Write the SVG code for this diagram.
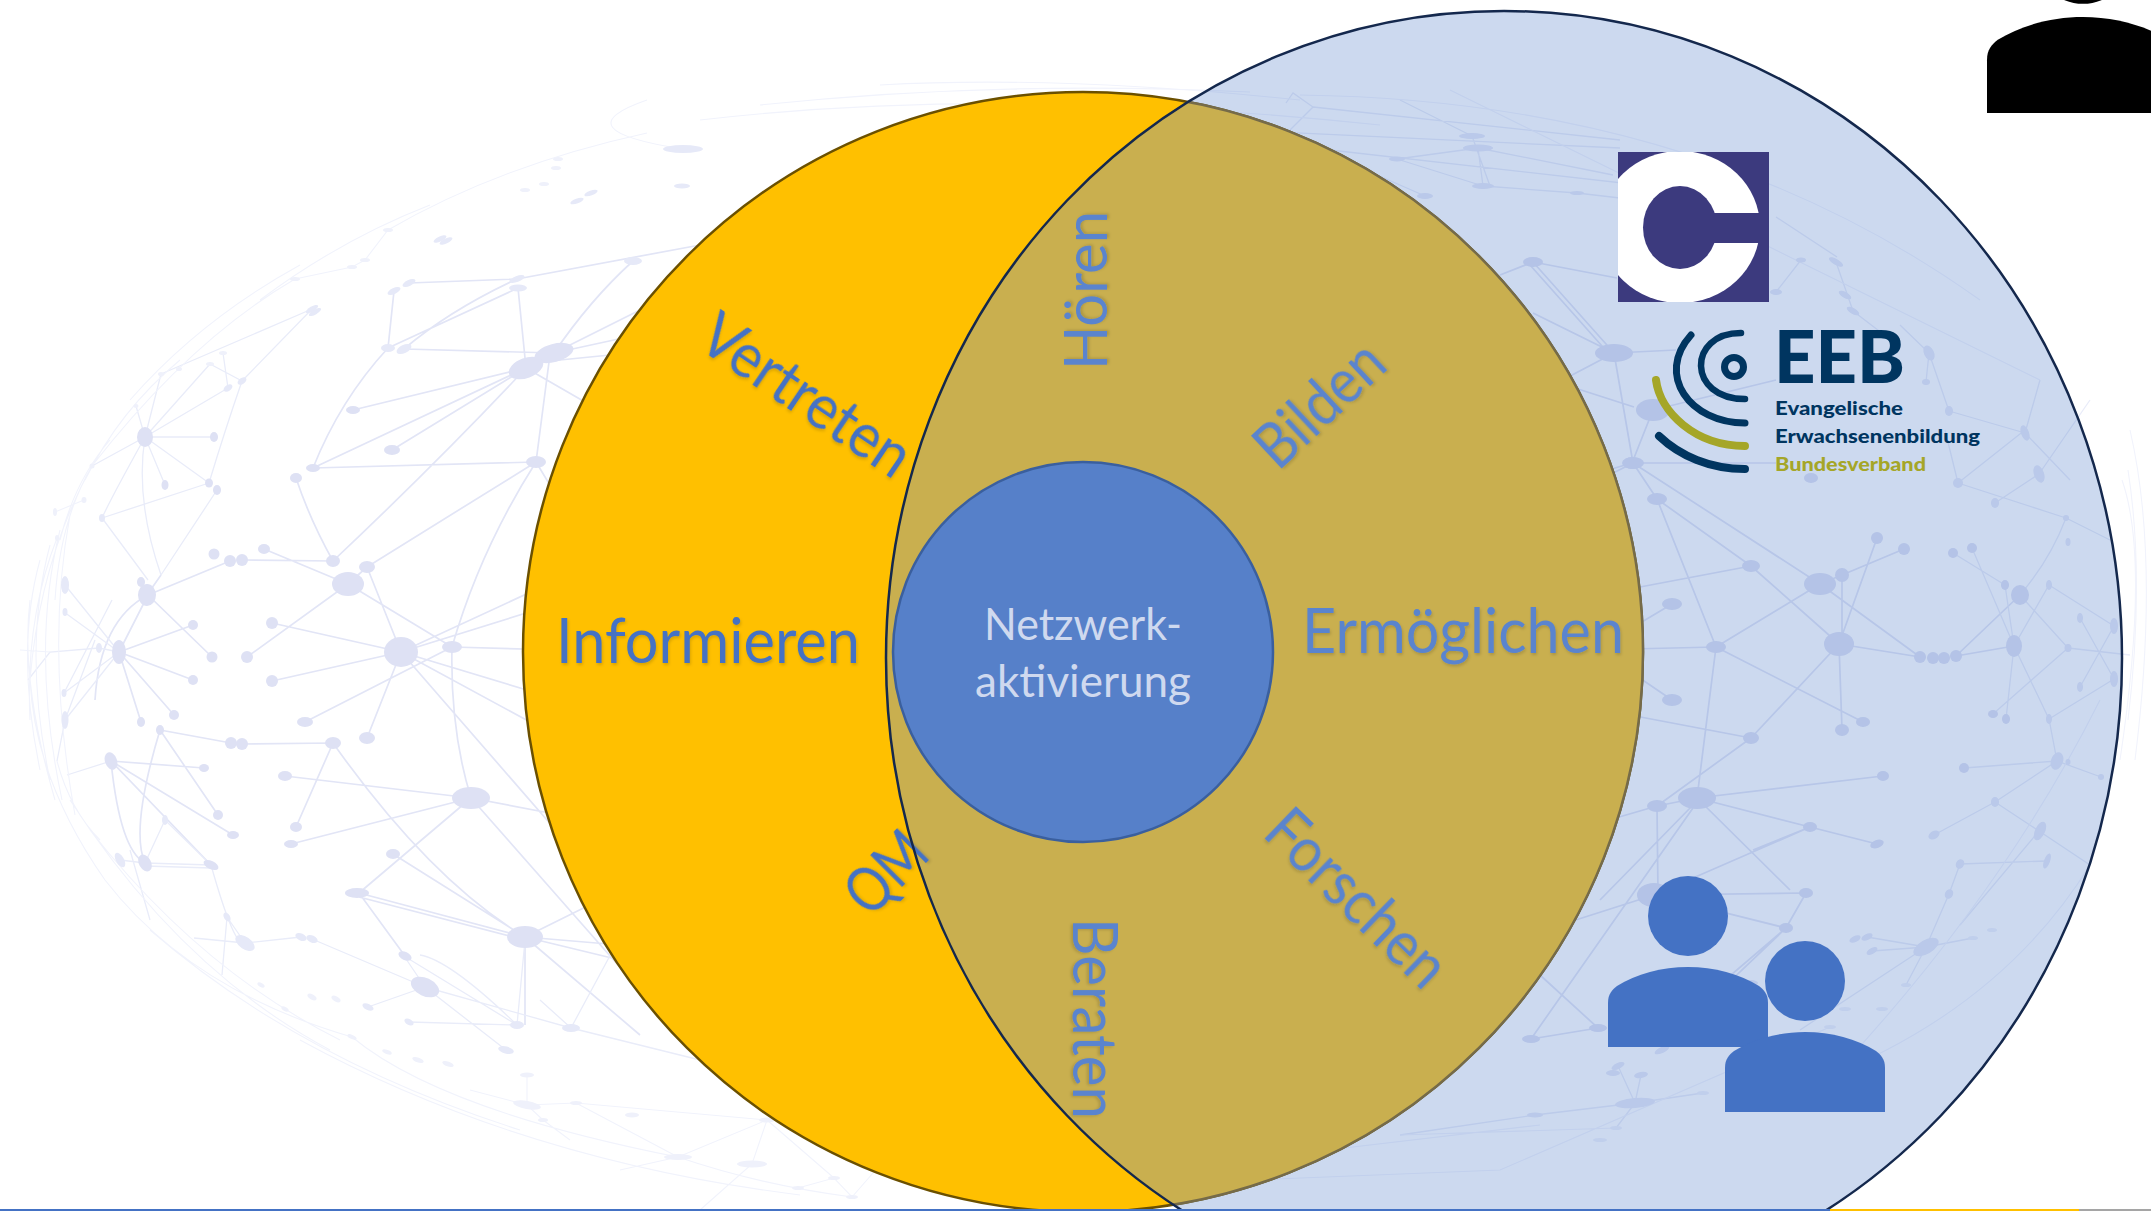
<svg xmlns="http://www.w3.org/2000/svg" width="2151" height="1211" viewBox="0 0 2151 1211">
<style>
.edge{fill:none;stroke:#e2e5f6;stroke-width:1.7}
.edge2{fill:none;stroke:#e9ecf9;stroke-width:1.3}
.edge3{fill:none;stroke:#f1f3fc;stroke-width:1.1}
.nd{fill:#dee1f4}
.nd2{fill:#e6e9f8}
.nd3{fill:#eff1fb}
.lab{font-family:"Lato","Carlito","Liberation Sans",sans-serif;font-size:62px;fill:#4472c4;filter:url(#sh)}
.lab2{fill:#5a84ce}
.rot{font-size:60px}
.in{font-family:"Lato","Carlito","Liberation Sans",sans-serif;font-size:44px;fill:#cfd9ef;text-anchor:middle}
.eeb{font-family:"Lato","Noto Sans",sans-serif;font-weight:700;font-size:19px;fill:#003560}
</style>
<defs>
<filter id="sh" x="-10%" y="-20%" width="120%" height="140%"><feDropShadow dx="1" dy="2" stdDeviation="1.5" flood-color="#000" flood-opacity="0.15"/></filter>
<clipPath id="cclip"><rect x="1618" y="152" width="151" height="150"/></clipPath>
<clipPath id="bigclip"><ellipse cx="1504" cy="658" rx="618" ry="647"/></clipPath>
<g id="person"><circle cx="0" cy="-51" r="40"/><path d="M-80 80V36C-80 27-76 23-71 19-52 7-26 0 0 0 26 0 52 7 71 19 76 23 80 27 80 36V80Z"/></g>
</defs>
<rect width="2151" height="1211" fill="#fff"/>
<g id="network">
<path class="edge" d="M526 368L518 288M526 368L353 410M526 368L313 468M526 368L392 450M526 368Q440 460 333 561M554 353L404 349M526 368L585 402M554 353Q590 300 633 261M554 353L660 300M554 353L660 330M536 462L549 362M536 462L313 468M536 462L367 567M536 462Q480 550 452 647M536 462L565 510M540 362L610 355M517 279L700 245M517 279L409 283M518 288L388 348M517 279Q450 310 404 349M394 291L388 348M388 348Q340 400 313 468M333 561Q310 520 296 478M333 561L242 560M264 549L348 584M348 584L367 567M367 567L401 652M348 584L247 657M348 584L452 647M401 652L272 623M401 652L272 681M452 647L305 722M401 652L367 738M401 652L600 590M401 652L600 560M401 652L560 700M401 652L600 760M401 652L560 835M452 647L560 650M452 647Q450 730 471 798M333 743L242 744M231 743L160 730M333 743L296 827M333 743Q430 880 525 937M285 776L471 798M291 844L471 798M471 798L359 893M471 798L560 815M471 798L640 990M393 854L525 937M359 893L525 937M359 897L525 940M359 893L405 956M525 937L640 880M525 937L620 945M525 937L620 960M525 937L525 1025M525 937L640 1035M148 595L212 657M148 595L119 652M148 595L230 561M119 652L193 625M119 652L193 680M119 652L174 715M119 652L141 722M147 595L161 575M160 730Q130 830 145 863M160 730L218 815M111 761L204 768M111 761L233 835M111 761L211 865M148 595Q100 620 95 700M111 761Q120 850 145 863"/>
<path class="edge2" d="M102 518L148 580M102 518L209 483M209 483L145 437M145 437L214 437M145 437L165 485M145 437L92 466M145 437L228 388M145 437L210 364M145 437L161 374M145 437L136 406M209 483Q225 430 242 381M223 353L228 388M210 364L242 381M312 309L161 374M312 309L242 381M161 575L217 490M161 575Q135 500 145 437M102 518Q110 500 145 437M119 652L99 648L50 652L28 680M119 652L64 612M119 652L64 693L112 600M119 652L65 720L95 640M65 585L119 652M65 720L57 761M67 775L111 761M145 863L211 865M145 866L211 868M165 820L145 863M211 865Q235 950 245 943M211 865L165 820M245 943L301 937M245 943L194 938M227 917L222 975M227 917L245 943M425 987L368 1007M425 987L404 956M425 987L312 939M425 987L506 1050M425 987L571 1028M404 956L517 1025M409 1022L517 1025M517 1025Q450 960 420 955M517 1025L525 940M571 1028L640 900M571 1028Q700 1060 700 1060M540 1000L571 1028M120 860L145 863M130 850L150 920"/>
<path class="edge" d="M1633 463L1657 499M1633 463L1820 584M1633 463L1540 510M1633 463L1776 463M1657 499L1751 566M1657 499L1716 647M1751 566L1839 644M1751 566L1640 587M1820 584L1716 647M1820 584L1842 575M1842 575L1904 549M1842 575L1842 644M1839 644L1877 538M1820 584L1920 657M1839 644L1920 657M1839 644L1842 730M1839 644L1751 738M1716 647L1863 722M1716 647L1630 649M1716 647L1697 798M1672 604L1625 632M1672 700L1625 668M1751 738L1630 715M1751 738L1657 806M1956 656L2014 646M1956 656L2020 595M1697 798L1883 776M1697 798L1810 827M1697 798L1657 806M1810 827L1877 844M1810 827L1753 850M1697 798L1790 890M1657 806L1658 895M1657 806L1540 840M1693 805L1600 900M1810 827L1654 895M1654 895L1806 893M1806 893L1786 928M1654 895L1560 925M1654 895L1786 928M1693 808L1531 1039M1531 1039L1598 1028M1540 975L1598 1028M1786 928L1700 1010M1786 928L1690 1010M1614 353L1533 262M1610 355L1530 265M1614 353L1533 313M1614 353L1553 385M1614 353L1676 350M1653 410L1776 380M1550 380L1634 407M1632 463L1776 463M1653 410L1632 463M1614 353L1633 463M1632 463L1540 490M1533 262L1617 278M1533 262L1500 275"/>
<path class="edge2" d="M1397 159L1478 148L1613 175M1478 148L1483 186M1472 136L1490 186M1483 186L1577 193L1620 198M1397 159L1483 186M1472 136L1400 100M1286 103L1293 93L1313 107L1290 130M1313 107L1620 140M1233 130L1620 148M1330 150L1640 185M1425 196L1320 150M2014 646L1972 548M2014 646L2005 585M2005 585L1953 553M2020 595Q2050 560 2066 518M2014 646L2049 585M2049 585L2114 626M2020 595L2068 648M2068 648L1993 714M2014 646L2006 719M2014 646L2049 719M2049 719L2114 679M2049 719L2057 761M2057 761L1964 768M2057 761L2101 777M2057 761L1995 802M1995 802L1934 835M1995 802L2039 831M2080 618L2114 679M2080 687L2114 626M1958 483L2066 518M1995 503L2039 474M1958 483L1945 430M2066 518L2110 540M2068 648L2130 655M2039 831L1960 925M2039 831L1995 802M2039 831L2090 865M1960 864L2047 861M1960 864L1949 894M1949 894L1926 947M1926 947L1867 937M1926 947L1872 951M1926 947L1973 938M1926 947L1906 985M1926 947L1800 1030M1635 1103L1618 1066M1635 1103L1641 1075M1635 1103L1535 1115M1635 1103L1703 1093M1635 1103L1616 1128M1535 1115L1400 1135M1776 217L1837 257M1776 292L1801 260M1836 262L1853 311M1853 311L1900 347M1929 353L1900 325M1929 353L1949 411M1929 353L1926 382M1949 411L2025 433M2025 433L2040 380M2025 433L2070 480M1958 483L2025 430M2039 474L2090 400"/>
<path class="edge3" d="M647 133Q500 165 388 230L365 260L352 267L295 279Q190 340 92 466Q40 560 30 680Q35 780 105 880Q190 990 352 1037Q440 1110 678 1157Q760 1185 852 1197M683 149Q560 130 647 100M57 538Q25 620 30 720M92 466Q60 520 55 600M84 500L55 512M50 652L20 650M57 761Q70 810 100 840M527 1075L527 1105L576 1103L767 1120L678 1157L620 1170M527 1105L470 1090M576 1103L678 1157M543 1120L527 1105M543 1120L570 1140M767 1120L752 1164L700 1210M834 1178L767 1120M798 1188L834 1178L852 1197L880 1165M1400 1135L1616 1128M1200 1165L1540 1125M1000 1190L1500 1170L1830 1027M1820 1090Q2000 900 2100 700M2090 865Q2000 1010 1820 1080M2122 480Q2150 560 2120 760M1450 90L2040 380M880 85Q1060 75 1300 100M760 105Q1000 80 1250 92M700 120Q1000 85 1380 125M40 560Q15 650 40 770M50 545Q22 650 50 780M60 530Q30 650 62 800M70 515Q45 650 75 815M30 600Q20 680 55 800M110 440Q75 480 60 540M180 360Q120 410 85 480M300 265Q200 320 130 400M430 205Q340 240 260 300M90 830Q200 970 340 1040M70 800Q180 970 330 1050M150 930Q300 1060 520 1130M300 1040Q520 1160 800 1195M2130 430Q2160 560 2135 760M2128 470Q2145 580 2128 720M1300 95Q1700 100 1980 300"/>
<g class="nd">
<ellipse cx="554" cy="353" rx="20" ry="9" transform="rotate(-15 554 353)"/><ellipse cx="526" cy="368" rx="18" ry="10" transform="rotate(-20 526 368)"/><ellipse cx="536" cy="462" rx="10" ry="6"/><ellipse cx="392" cy="450" rx="8" ry="5"/><ellipse cx="353" cy="410" rx="7" ry="4"/><ellipse cx="313" cy="468" rx="7" ry="4"/><ellipse cx="296" cy="478" rx="6" ry="5"/><ellipse cx="333" cy="561" rx="7" ry="6"/><ellipse cx="367" cy="567" rx="8" ry="6"/><ellipse cx="348" cy="584" rx="16" ry="12"/><ellipse cx="264" cy="549" rx="6" ry="5"/><circle cx="242" cy="560" r="6"/><circle cx="230" cy="561" r="6"/><circle cx="214" cy="554" r="5.5"/><ellipse cx="147" cy="595" rx="9" ry="11"/><ellipse cx="401" cy="652" rx="17" ry="15"/><ellipse cx="452" cy="647" rx="10" ry="6"/><circle cx="272" cy="623" r="6"/><circle cx="247" cy="657" r="6"/><circle cx="272" cy="681" r="6"/><ellipse cx="305" cy="722" rx="8" ry="5"/><ellipse cx="367" cy="738" rx="8" ry="6"/><ellipse cx="333" cy="743" rx="8" ry="6"/><circle cx="242" cy="744" r="6"/><circle cx="231" cy="743" r="6"/><ellipse cx="160" cy="730" rx="4" ry="5"/><ellipse cx="119" cy="652" rx="7" ry="12"/><circle cx="193" cy="625" r="5"/><circle cx="212" cy="657" r="5.5"/><circle cx="193" cy="680" r="5"/><circle cx="174" cy="715" r="5"/><ellipse cx="141" cy="722" rx="4" ry="5"/><ellipse cx="141" cy="582" rx="4" ry="5"/><ellipse cx="285" cy="776" rx="7" ry="5"/><ellipse cx="296" cy="827" rx="6" ry="5"/><ellipse cx="291" cy="844" rx="7" ry="4"/><ellipse cx="471" cy="798" rx="19" ry="11"/><ellipse cx="393" cy="854" rx="7" ry="5"/><ellipse cx="357" cy="893" rx="12" ry="5"/><ellipse cx="525" cy="937" rx="18" ry="11"/><ellipse cx="405" cy="956" rx="7" ry="4" transform="rotate(25 405 956)"/><ellipse cx="111" cy="761" rx="6" ry="9" transform="rotate(-20 111 761)"/><ellipse cx="204" cy="768" rx="5" ry="4"/><ellipse cx="218" cy="815" rx="5" ry="5"/><ellipse cx="233" cy="835" rx="6" ry="4"/><ellipse cx="145" cy="863" rx="6" ry="9" transform="rotate(-30 145 863)"/><ellipse cx="211" cy="865" rx="8" ry="4" transform="rotate(25 211 865)"/><ellipse cx="425" cy="987" rx="15" ry="9" transform="rotate(25 425 987)"/><ellipse cx="145" cy="437" rx="8" ry="10"/><ellipse cx="209" cy="483" rx="4" ry="4.5"/><ellipse cx="217" cy="490" rx="4" ry="5"/><ellipse cx="165" cy="485" rx="3.5" ry="5"/><ellipse cx="214" cy="437" rx="4" ry="5"/>
<ellipse cx="1633" cy="463" rx="11" ry="6"/><ellipse cx="1657" cy="499" rx="10" ry="6"/><ellipse cx="1751" cy="566" rx="9" ry="6"/><ellipse cx="1672" cy="604" rx="10" ry="6"/><ellipse cx="1672" cy="700" rx="10" ry="6"/><ellipse cx="1716" cy="647" rx="10" ry="6"/><ellipse cx="1820" cy="584" rx="16" ry="11"/><circle cx="1842" cy="575" r="7"/><circle cx="1877" cy="538" r="6"/><circle cx="1904" cy="549" r="6"/><ellipse cx="1839" cy="644" rx="15" ry="12"/><circle cx="1920" cy="657" r="6"/><circle cx="1933" cy="658" r="6"/><circle cx="1944" cy="658" r="6"/><circle cx="1956" cy="656" r="6"/><ellipse cx="2014" cy="646" rx="8" ry="11"/><ellipse cx="2020" cy="595" rx="9" ry="10"/><ellipse cx="2005" cy="585" rx="4" ry="5"/><ellipse cx="1953" cy="553" rx="5" ry="5"/><ellipse cx="1972" cy="548" rx="5" ry="5"/><ellipse cx="1863" cy="722" rx="7" ry="5"/><ellipse cx="1842" cy="730" rx="7" ry="6"/><ellipse cx="1751" cy="738" rx="8" ry="6"/><ellipse cx="1883" cy="776" rx="6" ry="5"/><ellipse cx="1964" cy="768" rx="5" ry="5"/><ellipse cx="1993" cy="714" rx="5" ry="4"/><ellipse cx="2006" cy="719" rx="4" ry="5"/><ellipse cx="1697" cy="798" rx="19" ry="11"/><ellipse cx="1657" cy="806" rx="10" ry="6"/><ellipse cx="1810" cy="827" rx="7" ry="5"/><ellipse cx="1877" cy="844" rx="7" ry="4" transform="rotate(-20 1877 844)"/><ellipse cx="1654" cy="895" rx="17" ry="12"/><ellipse cx="1806" cy="893" rx="7" ry="5"/><ellipse cx="1786" cy="928" rx="7" ry="5"/><ellipse cx="1598" cy="1028" rx="9" ry="4"/><ellipse cx="1531" cy="1039" rx="9" ry="4"/><ellipse cx="1614" cy="353" rx="19" ry="9"/><ellipse cx="1653" cy="410" rx="17" ry="11"/><ellipse cx="1632" cy="463" rx="9" ry="6"/><ellipse cx="1533" cy="262" rx="10" ry="5"/><ellipse cx="1811" cy="478" rx="7" ry="5"/>
</g>
<g class="nd2">
<ellipse cx="518" cy="288" rx="9" ry="3.5"/><ellipse cx="517" cy="279" rx="8" ry="3" transform="rotate(-20 517 279)"/><ellipse cx="409" cy="283" rx="7" ry="3" transform="rotate(-25 409 283)"/><ellipse cx="394" cy="291" rx="7" ry="3" transform="rotate(-25 394 291)"/><ellipse cx="404" cy="349" rx="8" ry="4" transform="rotate(-25 404 349)"/><ellipse cx="388" cy="348" rx="7" ry="4"/><ellipse cx="633" cy="261" rx="9" ry="4"/><ellipse cx="102" cy="518" rx="3" ry="4"/><ellipse cx="65" cy="585" rx="4" ry="9"/><ellipse cx="65" cy="612" rx="2.5" ry="4"/><ellipse cx="64" cy="693" rx="2.5" ry="4"/><ellipse cx="65" cy="720" rx="3.5" ry="9"/><ellipse cx="99" cy="648" rx="3" ry="5"/><ellipse cx="120" cy="860" rx="4" ry="8" transform="rotate(-30 120 860)"/><ellipse cx="165" cy="820" rx="3" ry="5"/><ellipse cx="245" cy="943" rx="11" ry="6" transform="rotate(35 245 943)"/><ellipse cx="301" cy="937" rx="6" ry="3.5" transform="rotate(25 301 937)"/><ellipse cx="312" cy="939" rx="6" ry="3.5" transform="rotate(25 312 939)"/><ellipse cx="227" cy="917" rx="3" ry="5" transform="rotate(-30 227 917)"/><ellipse cx="368" cy="1007" rx="6" ry="3" transform="rotate(25 368 1007)"/><ellipse cx="517" cy="1025" rx="7" ry="4"/><ellipse cx="571" cy="1028" rx="9" ry="4"/><ellipse cx="409" cy="1022" rx="5" ry="3" transform="rotate(30 409 1022)"/><ellipse cx="506" cy="1050" rx="8" ry="3.5" transform="rotate(15 506 1050)"/>
<ellipse cx="683" cy="149" rx="20" ry="4"/><ellipse cx="682" cy="186" rx="8" ry="2.5"/><ellipse cx="591" cy="193" rx="7" ry="2.5" transform="rotate(-20 591 193)"/><ellipse cx="577" cy="201" rx="7" ry="2.5" transform="rotate(-20 577 201)"/><ellipse cx="440" cy="239" rx="7" ry="2.5" transform="rotate(-25 440 239)"/><ellipse cx="446" cy="241" rx="7" ry="2.5" transform="rotate(-25 446 241)"/><ellipse cx="228" cy="388" rx="5" ry="3" transform="rotate(-35 228 388)"/><ellipse cx="242" cy="381" rx="5" ry="3" transform="rotate(-35 242 381)"/><ellipse cx="312" cy="309" rx="7" ry="2.5" transform="rotate(-30 312 309)"/><ellipse cx="315" cy="312" rx="7" ry="2.5" transform="rotate(-30 315 312)"/>
<ellipse cx="1478" cy="148" rx="15" ry="3.5"/><ellipse cx="1472" cy="136" rx="13" ry="3"/><ellipse cx="1397" cy="159" rx="8" ry="2.5"/><ellipse cx="1483" cy="186" rx="11" ry="3"/><ellipse cx="1425" cy="196" rx="8" ry="3"/><ellipse cx="1577" cy="193" rx="7" ry="2"/><ellipse cx="1836" cy="262" rx="8" ry="3" transform="rotate(30 1836 262)"/><ellipse cx="1845" cy="295" rx="7" ry="3" transform="rotate(30 1845 295)"/><ellipse cx="1853" cy="311" rx="7" ry="3" transform="rotate(30 1853 311)"/><ellipse cx="1776" cy="292" rx="6" ry="3"/><ellipse cx="1801" cy="260" rx="5" ry="2.5"/><ellipse cx="1929" cy="353" rx="5" ry="8" transform="rotate(-25 1929 353)"/><ellipse cx="1926" cy="382" rx="4" ry="3"/><ellipse cx="1949" cy="411" rx="4" ry="5"/><ellipse cx="1958" cy="483" rx="5" ry="5"/><ellipse cx="2025" cy="433" rx="4" ry="8" transform="rotate(-20 2025 433)"/><ellipse cx="2039" cy="474" rx="5" ry="9" transform="rotate(-20 2039 474)"/><ellipse cx="1995" cy="503" rx="4" ry="5"/><ellipse cx="2066" cy="518" rx="3" ry="3"/><ellipse cx="2068" cy="542" rx="2.5" ry="4"/><ellipse cx="2068" cy="648" rx="3.5" ry="4"/><ellipse cx="2049" cy="585" rx="3" ry="5"/><ellipse cx="2049" cy="719" rx="3" ry="5"/><ellipse cx="2080" cy="618" rx="3" ry="5"/><ellipse cx="2080" cy="687" rx="3" ry="5"/><ellipse cx="2114" cy="626" rx="4" ry="8"/><ellipse cx="2114" cy="679" rx="4" ry="8"/><ellipse cx="2057" cy="761" rx="6" ry="9" transform="rotate(20 2057 761)"/><ellipse cx="2068" cy="762" rx="2.5" ry="3"/><ellipse cx="2101" cy="777" rx="3" ry="3"/><ellipse cx="1995" cy="802" rx="4" ry="5"/><ellipse cx="1934" cy="835" rx="6" ry="4" transform="rotate(-30 1934 835)"/><ellipse cx="2040" cy="831" rx="5" ry="10" transform="rotate(25 2040 831)"/><ellipse cx="2047" cy="861" rx="3" ry="8" transform="rotate(20 2047 861)"/><ellipse cx="1960" cy="864" rx="4" ry="5" transform="rotate(30 1960 864)"/><ellipse cx="1949" cy="894" rx="4" ry="5" transform="rotate(30 1949 894)"/><ellipse cx="1926" cy="947" rx="14" ry="7" transform="rotate(-30 1926 947)"/><ellipse cx="1855" cy="939" rx="6" ry="3" transform="rotate(-25 1855 939)"/><ellipse cx="1867" cy="937" rx="6" ry="3" transform="rotate(-25 1867 937)"/><ellipse cx="1872" cy="951" rx="6" ry="3" transform="rotate(-30 1872 951)"/><ellipse cx="1635" cy="1103" rx="20" ry="5" transform="rotate(-5 1635 1103)"/><ellipse cx="1618" cy="1066" rx="7" ry="3" transform="rotate(-25 1618 1066)"/><ellipse cx="1613" cy="1073" rx="7" ry="3"/><ellipse cx="1641" cy="1075" rx="7" ry="3" transform="rotate(-10 1641 1075)"/><ellipse cx="1535" cy="1115" rx="8" ry="2.5"/><ellipse cx="1662" cy="1050" rx="8" ry="3" transform="rotate(-25 1662 1050)"/><ellipse cx="1751" cy="983" rx="7" ry="3"/>
</g>
<g class="nd3">
<ellipse cx="223" cy="353" rx="4" ry="2"/><ellipse cx="210" cy="364" rx="4" ry="2"/><ellipse cx="161" cy="374" rx="3" ry="2"/><ellipse cx="179" cy="369" rx="3" ry="2"/><ellipse cx="136" cy="406" rx="2.5" ry="2"/><ellipse cx="92" cy="466" rx="2.5" ry="2.5"/><ellipse cx="84" cy="500" rx="2.5" ry="3"/><ellipse cx="55" cy="512" rx="2" ry="4"/><ellipse cx="57" cy="538" rx="2" ry="3"/><ellipse cx="544" cy="184" rx="5" ry="2"/><ellipse cx="525" cy="190" rx="5" ry="2"/><ellipse cx="558" cy="159" rx="5" ry="2"/><ellipse cx="556" cy="168" rx="5" ry="2"/><ellipse cx="388" cy="230" rx="5" ry="2"/><ellipse cx="365" cy="260" rx="5" ry="2"/><ellipse cx="352" cy="267" rx="5" ry="2"/><ellipse cx="295" cy="279" rx="5" ry="2"/><ellipse cx="336" cy="999" rx="5" ry="2.5" transform="rotate(30 336 999)"/><ellipse cx="312" cy="997" rx="5" ry="2.5" transform="rotate(30 312 997)"/><ellipse cx="261" cy="985" rx="4" ry="2" transform="rotate(30 261 985)"/><ellipse cx="285" cy="1009" rx="4" ry="2" transform="rotate(30 285 1009)"/><ellipse cx="352" cy="1037" rx="5" ry="2" transform="rotate(25 352 1037)"/><ellipse cx="387" cy="1052" rx="5" ry="2" transform="rotate(20 387 1052)"/><ellipse cx="418" cy="1060" rx="6" ry="2.5" transform="rotate(20 418 1060)"/><ellipse cx="448" cy="1064" rx="6" ry="2.5" transform="rotate(20 448 1064)"/><ellipse cx="527" cy="1075" rx="7" ry="2.5"/><ellipse cx="527" cy="1105" rx="14" ry="4" transform="rotate(10 527 1105)"/><ellipse cx="576" cy="1103" rx="6" ry="2"/><ellipse cx="632" cy="1115" rx="7" ry="2.5"/><ellipse cx="543" cy="1120" rx="5" ry="2"/><ellipse cx="767" cy="1120" rx="8" ry="2.5"/><ellipse cx="678" cy="1157" rx="14" ry="3"/><ellipse cx="752" cy="1164" rx="15" ry="3.5"/><ellipse cx="834" cy="1178" rx="6" ry="2"/><ellipse cx="798" cy="1188" rx="6" ry="2"/><ellipse cx="852" cy="1197" rx="6" ry="2"/><ellipse cx="1703" cy="1093" rx="6" ry="2"/><ellipse cx="1616" cy="1128" rx="6" ry="2"/><ellipse cx="1600" cy="1140" rx="7" ry="2"/><ellipse cx="1906" cy="985" rx="5" ry="2"/><ellipse cx="1845" cy="1009" rx="6" ry="2"/><ellipse cx="1882" cy="1009" rx="6" ry="2"/><ellipse cx="1830" cy="1027" rx="6" ry="2"/><ellipse cx="1973" cy="938" rx="5" ry="2"/><ellipse cx="1992" cy="930" rx="5" ry="2"/>
</g>
</g>
<circle id="outer-orange" cx="1083" cy="652" r="560" fill="#ffc000" stroke="#6b5000" stroke-width="2.5"/>
<ellipse id="overlay-blue" cx="1504" cy="658" rx="618" ry="647" fill="#4472c4" fill-opacity="0.27"/>
<g id="overlap" clip-path="url(#bigclip)"><circle cx="1083" cy="652" r="560" fill="#c9af4f" stroke="#766b48" stroke-width="2.5"/></g>
<g id="left-labels">
<text class="lab" transform="translate(695 346) rotate(34)" textLength="240" lengthAdjust="spacingAndGlyphs">Vertreten</text>
<text class="lab" x="556" y="663" textLength="304" lengthAdjust="spacingAndGlyphs">Informieren</text>
<text class="lab" transform="translate(870 919) rotate(-45)" textLength="88" lengthAdjust="spacingAndGlyphs">QM</text>
</g>
<ellipse id="overlay-line" cx="1504" cy="658" rx="618" ry="647" fill="none" stroke="#14284d" stroke-width="2.5"/>
<circle id="center" cx="1083" cy="652" r="190" fill="#5680c9" stroke="#3a5f9e" stroke-width="2.5"/>
<g id="center-label">
<text class="in" x="1083" y="640" textLength="198" lengthAdjust="spacingAndGlyphs">Netzwerk-</text>
<text class="in" x="1083" y="697" textLength="216" lengthAdjust="spacingAndGlyphs">aktivierung</text>
</g>
<g id="right-labels">
<text class="lab lab2 rot" transform="translate(1107 370) rotate(-90)" textLength="159" lengthAdjust="spacingAndGlyphs">Hören</text>
<text class="lab lab2" transform="translate(1278 472) rotate(-43)" textLength="153" lengthAdjust="spacingAndGlyphs">Bilden</text>
<text class="lab lab2" x="1302" y="653" textLength="322" lengthAdjust="spacingAndGlyphs">Ermöglichen</text>
<text class="lab lab2" transform="translate(1261 835) rotate(44)" textLength="226" lengthAdjust="spacingAndGlyphs">Forschen</text>
<text class="lab lab2" transform="translate(1073 918) rotate(90)" textLength="201" lengthAdjust="spacingAndGlyphs">Beraten</text>
</g>
<g id="logo-c">
<rect x="1618" y="152" width="151" height="150" fill="#3c3a7e"/>
<g clip-path="url(#cclip)">
<ellipse cx="1680" cy="227" rx="80" ry="76" fill="#fff"/>
<ellipse cx="1680" cy="227.500" rx="37" ry="41.500" fill="#3c3a7e"/>
<rect x="1680" y="213" width="90" height="30" fill="#3c3a7e"/>
</g>
</g>
<g id="logo-eeb">
<g fill="none" stroke="#003560" stroke-linecap="round">
<circle cx="1734" cy="367" r="9.500" stroke-width="7"/>
<path d="M1741 333C1687 333 1687 399 1745 399" stroke-width="6.500"/>
<path d="M1691 335C1655 375 1690 423 1745 423" stroke-width="7"/>
<path d="M1659 436C1680 456 1710 469 1745 469" stroke-width="8"/>
</g>
<path d="M1656 380C1660 412 1695 446 1745 446" fill="none" stroke="#a5a628" stroke-width="8" stroke-linecap="round"/>
<text class="eeb" x="1774" y="383" style="font-size:72px;font-weight:900" textLength="131" lengthAdjust="spacingAndGlyphs">EEB</text>
<text class="eeb" x="1775" y="415" style="font-weight:900" textLength="128" lengthAdjust="spacingAndGlyphs">Evangelische</text>
<text class="eeb" x="1775" y="443" style="font-weight:900" textLength="205" lengthAdjust="spacingAndGlyphs">Erwachsenenbildung</text>
<text class="eeb" x="1775" y="471" style="fill:#a5a628;font-weight:900" textLength="151" lengthAdjust="spacingAndGlyphs">Bundesverband</text>
</g>
<g id="person-black"><use href="#person" transform="translate(2083 17) scale(1.2)" fill="#000"/></g>
<g id="people" fill="#4472c4">
<use href="#person" transform="translate(1688 967)"/>
<use href="#person" transform="translate(1805 1032)"/>
</g>
<g id="bottom-bar">
<rect x="0" y="1209" width="1830" height="2" fill="#4472c4"/>
<rect x="1830" y="1209" width="249" height="2" fill="#ffc000"/>
<rect x="2079" y="1209" width="72" height="2" fill="#a5a5a5"/>
</g>
</svg>
